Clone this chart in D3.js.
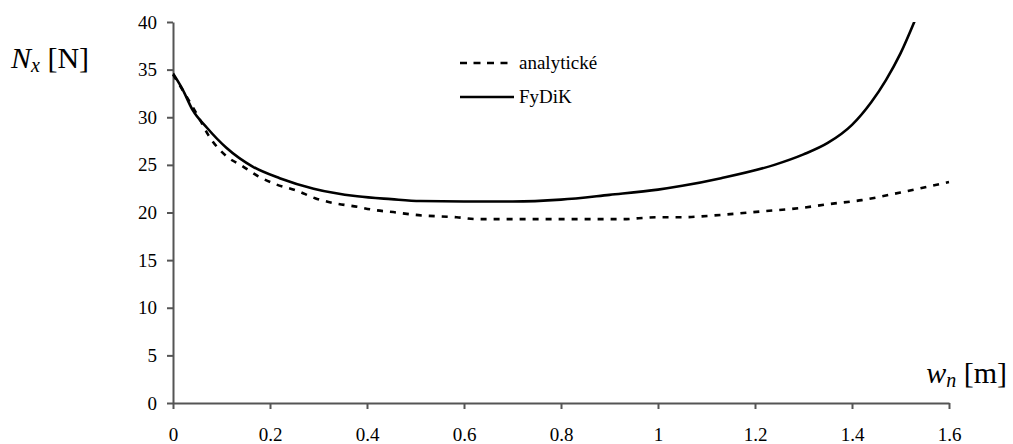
<!DOCTYPE html>
<html>
<head>
<meta charset="utf-8">
<script src="https://cdn.jsdelivr.net/npm/d3@7"></script>
<style>
  body { margin: 0; background: #fff; }
  svg text { font-family: "Liberation Serif", "DejaVu Serif", "Times New Roman", Times, serif; fill: #000; }
  .axis path, .axis line { stroke: #555; stroke-width: 2; }
  .axis text { font-size: 19px; }
</style>
</head>
<body>
<div id="chart"></div>
<script>
// Data
const seriesNames = ["analytické", "FyDiK"];

const xAnalytic = [0, 0.056, 0.072, 0.113, 0.142, 0.176, 0.21, 0.255, 0.293, 0.33, 0.38, 0.41, 0.46, 0.5,
  0.585, 0.63, 0.93, 0.96, 1.0, 1.045, 1.13, 1.21, 1.29, 1.355, 1.42, 1.5, 1.6];
const yAnalytic = [34.5, 29.7, 28.2, 25.8, 24.9, 23.8, 23.0, 22.3, 21.5, 21.0, 20.6, 20.3, 20.0, 19.75,
  19.5, 19.3, 19.3, 19.4, 19.5, 19.5, 19.75, 20.1, 20.45, 20.9, 21.3, 22.1, 23.2];

const xFydik = [0, 0.02, 0.04, 0.07, 0.11, 0.165, 0.22, 0.29, 0.38, 0.45, 0.51, 0.6, 0.7, 0.8, 0.9,
  1.0, 1.05, 1.13, 1.24, 1.3, 1.35, 1.4, 1.44, 1.47, 1.5, 1.53];
const yFydik = [34.6, 32.9, 30.8, 28.9, 26.8, 24.8, 23.6, 22.5, 21.7, 21.4, 21.2, 21.15, 21.15, 21.35, 21.85,
  22.4, 22.8, 23.6, 25.0, 26.1, 27.3, 29.2, 31.6, 33.9, 36.7, 40.2];

const xTicks = [0, 0.2, 0.4, 0.6, 0.8, 1, 1.2, 1.4, 1.6];
const yTicks = [0, 5, 10, 15, 20, 25, 30, 35, 40];

const W = 1013, H = 444;
const serif = '"Liberation Serif", "DejaVu Serif", "Times New Roman", serif';

const svg = d3.select("#chart")
  .append("svg")
  .attr("width", W)
  .attr("height", H)
  .attr("font-family", serif);

// Scales
const x = d3.scaleLinear().domain([0, 1.6]).range([173, 949]);
const y = d3.scaleLinear().domain([0, 40]).range([403, 22]);

// clip at the top of the plot
svg.append("defs").append("clipPath")
  .attr("id", "plot-clip")
  .append("rect")
  .attr("x", x(0))
  .attr("y", y(40))
  .attr("width", x(1.6) - x(0) + 10)
  .attr("height", y(0) - y(40));

// Axes
const xAxis = svg.append("g")
  .attr("class", "axis x-axis")
  .attr("transform", `translate(0,${y(0)})`)
  .call(d3.axisBottom(x).tickValues(xTicks).tickFormat(d3.format("")).tickSize(6).tickSizeOuter(0).tickPadding(19));

const yAxis = svg.append("g")
  .attr("class", "axis y-axis")
  .attr("transform", `translate(${x(0)},0)`)
  .call(d3.axisLeft(y).tickValues(yTicks).tickSize(6).tickSizeOuter(0).tickPadding(10));

xAxis.attr("font-family", serif).attr("font-size", 19);
yAxis.attr("font-family", serif).attr("font-size", 19);

// Lines
const line = d3.line()
  .x(d => x(d[0]))
  .y(d => y(d[1]))
  .curve(d3.curveMonotoneX);

const analytic = xAnalytic.map((v, i) => [v, yAnalytic[i]]);
const fydik = xFydik.map((v, i) => [v, yFydik[i]]);

svg.append("path")
  .datum(analytic)
  .attr("d", line)
  .attr("fill", "none")
  .attr("stroke", "#000")
  .attr("stroke-width", 2.6)
  .attr("stroke-dasharray", "6,7");

svg.append("path")
  .datum(fydik)
  .attr("clip-path", "url(#plot-clip)")
  .attr("d", line)
  .attr("fill", "none")
  .attr("stroke", "#000")
  .attr("stroke-width", 2.6);

// Legend
const legend = svg.append("g").attr("class", "legend");
const legendY = [63, 97];
seriesNames.forEach((name, i) => {
  legend.append("line")
    .attr("x1", 460).attr("x2", 514)
    .attr("y1", legendY[i]).attr("y2", legendY[i])
    .attr("stroke", "#000")
    .attr("stroke-width", 2.6)
    .attr("stroke-dasharray", i === 0 ? "7,6.5" : null);
  legend.append("text")
    .attr("x", 519)
    .attr("y", legendY[i] + 6)
    .attr("font-size", 19)
    .text(name);
});

// Axis titles
const yTitle = svg.append("text")
  .attr("x", 11)
  .attr("y", 68)
  .attr("font-size", 30);
yTitle.append("tspan").style("font-style", "italic").text("N");
yTitle.append("tspan").style("font-style", "italic").attr("font-size", 20).attr("dy", 4).text("x");
yTitle.append("tspan").attr("dy", -4).text(" [N]");

const xTitle = svg.append("text")
  .attr("x", 1007)
  .attr("y", 383)
  .attr("text-anchor", "end")
  .attr("font-size", 30);
xTitle.append("tspan").style("font-style", "italic").text("w");
xTitle.append("tspan").style("font-style", "italic").attr("font-size", 20).attr("dy", 4).text("n");
xTitle.append("tspan").attr("dy", -4).text(" [m]");
</script>
</body>
</html>
